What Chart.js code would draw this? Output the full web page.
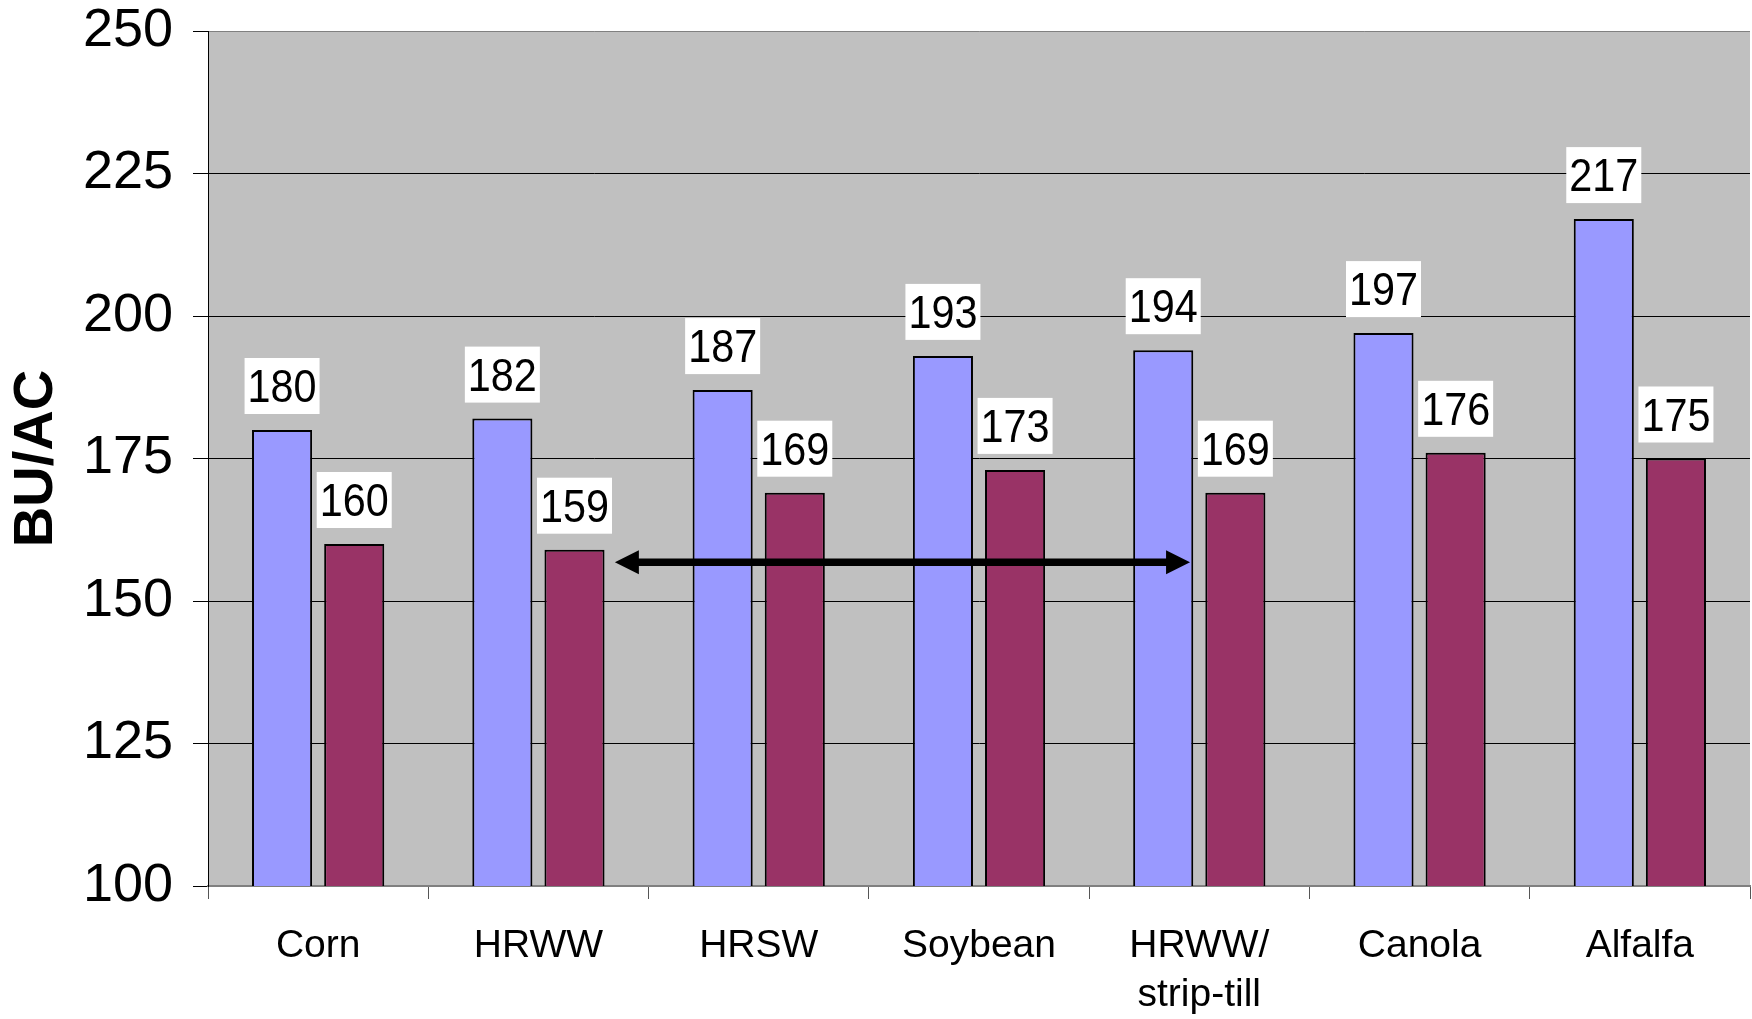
<!DOCTYPE html>
<html>
<head>
<meta charset="utf-8">
<script src="https://cdn.jsdelivr.net/npm/chart.js@4.4.0/dist/chart.umd.min.js"></script>
<style>
  html, body { margin: 0; padding: 0; background: #fff; }
  #wrap { width: 1752px; height: 1019px; }
</style>
</head>
<body>
<div id="wrap"><canvas id="yieldChart" width="1752" height="1019"></canvas></div>
<script>
// chart data
const categories = ['Corn', 'HRWW', 'HRSW', 'Soybean', ['HRWW/', 'strip-till'], 'Canola', 'Alfalfa'];
const seriesA = [180, 182, 187, 193, 194, 197, 217];
const seriesB = [160, 159, 169, 173, 169, 176, 175];
const yTicks = [100, 125, 150, 175, 200, 225, 250];
const axisTitle = 'BU/AC';

// arrow between HRWW and HRWW/strip-till (category units, value units)
const arrowFrom = 1.347;
const arrowTo = 3.958;
const arrowValue = 156.8;

const FONT = "'Liberation Sans', Arial, sans-serif";

// plot background
const plotBg = {
    id: 'plotBg',
    beforeDraw(chart) {
        const { ctx, chartArea: a } = chart;
        ctx.save();
        ctx.fillStyle = '#c0c0c0';
        ctx.fillRect(a.left, a.top, a.right - a.left, a.bottom - a.top);
        ctx.restore();
    }
};

// double headed arrow
const arrowPlugin = {
    id: 'arrow',
    afterDatasetsDraw(chart) {
        const { ctx, scales } = chart;
        const x1 = scales.x.getPixelForValue(arrowFrom);
        const x2 = scales.x.getPixelForValue(arrowTo);
        const y = scales.y.getPixelForValue(arrowValue);
        const head = 24, half = 12;
        ctx.save();
        ctx.strokeStyle = '#000';
        ctx.fillStyle = '#000';
        ctx.lineWidth = 7.5;
        ctx.beginPath();
        ctx.moveTo(x1 + head - 2, y);
        ctx.lineTo(x2 - head + 2, y);
        ctx.stroke();
        ctx.beginPath();
        ctx.moveTo(x1, y);
        ctx.lineTo(x1 + head, y - half);
        ctx.lineTo(x1 + head, y + half);
        ctx.closePath();
        ctx.fill();
        ctx.beginPath();
        ctx.moveTo(x2, y);
        ctx.lineTo(x2 - head, y - half);
        ctx.lineTo(x2 - head, y + half);
        ctx.closePath();
        ctx.fill();
        ctx.restore();
    }
};

// value labels in white boxes (text squeezed a little, like the original)
const valueLabels = {
    id: 'valueLabels',
    afterDraw(chart) {
        const { ctx } = chart;
        const squeeze = 0.88;
        ctx.save();
        ctx.font = '47px ' + FONT;
        ctx.textAlign = 'center';
        ctx.textBaseline = 'alphabetic';
        chart.data.datasets.forEach((ds, di) => {
            const meta = chart.getDatasetMeta(di);
            meta.data.forEach((bar, i) => {
                const txt = String(ds.data[i]);
                const w = ctx.measureText(txt).width * squeeze + 6;
                const h = 56;
                const bottom = bar.y - 16;
                ctx.fillStyle = '#fff';
                ctx.fillRect(bar.x - w / 2, bottom - h, w, h);
                ctx.fillStyle = '#000';
                ctx.save();
                ctx.translate(bar.x, bottom - 12);
                ctx.scale(squeeze, 1);
                ctx.fillText(txt, 0, 0);
                ctx.restore();
            });
        });
        ctx.restore();
    }
};

const ctx = document.getElementById('yieldChart').getContext('2d');
const chart = new Chart(ctx, {
    type: 'bar',
    data: {
        labels: categories,
        datasets: [
            {
                label: 'A',
                data: seriesA,
                backgroundColor: '#9999ff',
                borderColor: '#000',
                borderWidth: 2,
                borderSkipped: false
            },
            {
                label: 'B',
                data: seriesB,
                backgroundColor: '#993366',
                borderColor: '#000',
                borderWidth: 2,
                borderSkipped: false
            }
        ]
    },
    options: {
        responsive: false,
        animation: false,
        devicePixelRatio: 1,
        categoryPercentage: 0.655,
        barPercentage: 0.833,
        layout: { padding: { top: 31, right: 2, bottom: 0, left: 0 } },
        plugins: {
            legend: { display: false },
            tooltip: { enabled: false }
        },
        scales: {
            x: {
                grid: {
                    drawOnChartArea: false,
                    drawTicks: true,
                    tickLength: 13,
                    color: '#555'
                },
                border: { color: '#808080', width: 2 },
                ticks: {
                    color: '#000',
                    font: { family: FONT, size: 39, lineHeight: 1.27 },
                    padding: 22,
                    maxRotation: 0,
                    autoSkip: false
                },
                afterFit(scale) {
                    scale.height = 133;
                    scale.paddingLeft = 0;
                    scale.paddingRight = 0;
                }
            },
            y: {
                min: 100,
                max: 250,
                afterBuildTicks(scale) {
                    scale.ticks = yTicks.map(v => ({ value: v }));
                },
                grid: {
                    color: c => (c.tick && c.tick.value === 250 ? '#808080' : '#000'),
                    lineWidth: 1,
                    tickLength: 15,
                    tickColor: '#000'
                },
                border: { color: '#000', width: 1 },
                ticks: {
                    color: '#000',
                    font: { family: FONT, size: 54, lineHeight: 1.0 },
                    padding: 20
                },
                title: {
                    display: true,
                    text: axisTitle,
                    color: '#000',
                    font: { family: FONT, size: 56, weight: 'bold', lineHeight: 1.2 },
                    padding: { top: 3, bottom: 0 }
                },
                afterFit(scale) {
                    scale.width = 208;
                    scale.paddingTop = 0;
                    scale.paddingBottom = 0;
                }
            }
        }
    },
    plugins: [plotBg, arrowPlugin, valueLabels]
});
</script>
</body>
</html>
